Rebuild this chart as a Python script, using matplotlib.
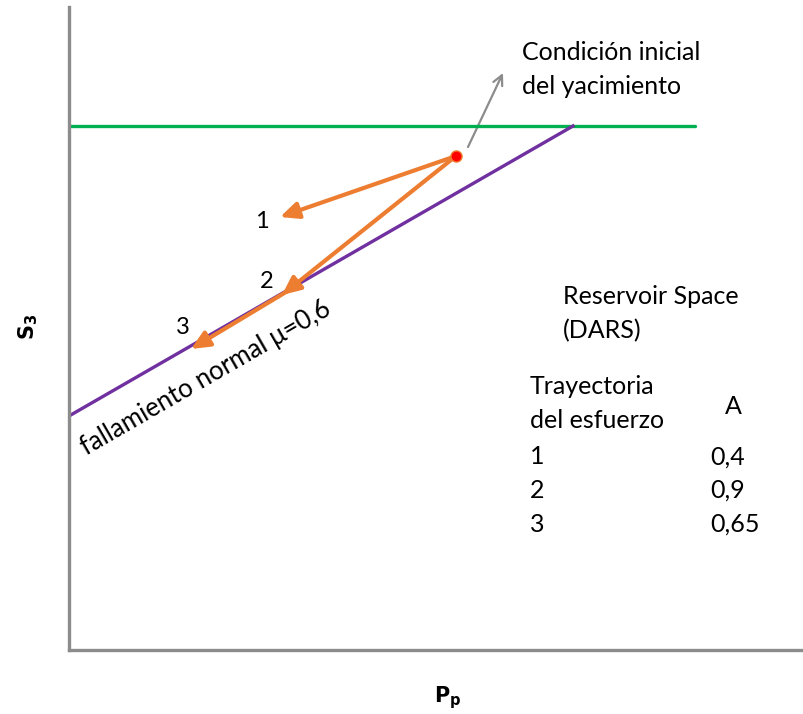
import matplotlib.pyplot as plt
from matplotlib.patches import FancyArrowPatch

plt.rcParams['font.family'] = ['Lato', 'DejaVu Sans']

# coordenadas del diagrama (unidades arbitrarias, origen en la esquina de los ejes)
envolvente_x = [0, 504]          # fallamiento normal mu=0,6
envolvente_y = [234, 524]
s3_ini = 524                      # S3 inicial (linea verde)
s3_x = [0, 626]
punto_inicial = (387, 494)
fin_trayectoria = [(211, 433), (213, 355), (122, 301)]
ini_trayectoria = [punto_inicial, punto_inicial, (222, 361)]
etiquetas_tray = ['1', '2', '3']
pos_etiquetas = [(193, 429), (198, 369), (114, 323)]

tabla_tray = ['1', '2', '3']
tabla_A = ['0,4', '0,9', '0,65']

fs = 18

fig = plt.figure(figsize=(8.04, 7.14), dpi=100)
ax = fig.add_axes([69 / 804, 64 / 714, 1 - 69 / 804, 643 / 714])
ax.set_xlim(0, 735)
ax.set_ylim(0, 643)
ax.set_xticks([])
ax.set_yticks([])
for s in ['top', 'right']:
    ax.spines[s].set_visible(False)
for s in ['left', 'bottom']:
    ax.spines[s].set_color('#8c8c8c')
    ax.spines[s].set_linewidth(2.4)

ax.plot(s3_x, [s3_ini, s3_ini], color='#00b050', lw=2.4, solid_capstyle='round')
ax.plot(envolvente_x, envolvente_y, color='#7030a0', lw=2.4)

for (x0, y0), (x1, y1) in zip(ini_trayectoria, fin_trayectoria):
    ax.add_patch(FancyArrowPatch((x0, y0), (x1, y1), arrowstyle='-|>,head_length=11,head_width=5',
                                 color='#ed7d31', lw=3, mutation_scale=1, shrinkA=0, shrinkB=0,
                                 zorder=3))
for t, (x, y) in zip(etiquetas_tray, pos_etiquetas):
    ax.text(x, y, t, fontsize=17, ha='center', va='center')

ax.plot(*punto_inicial, 'o', color='red', mec='#ed7d31', mew=1, ms=8, zorder=4)

ax.add_patch(FancyArrowPatch((399, 503), (434, 577), arrowstyle='->,head_length=7,head_width=3.5',
                             color='#8c8c8c', lw=1.6, mutation_scale=1, shrinkA=0, shrinkB=0))
ax.text(453, 598, 'Condición inicial', fontsize=fs, ha='left', va='center')
ax.text(453, 564, 'del yacimiento', fontsize=fs, ha='left', va='center')

ax.text(14, 201, 'fallamiento normal μ=0,6', fontsize=18.5, rotation=30,
        rotation_mode='anchor', ha='left', va='center')

ax.text(494, 353, 'Reservoir Space', fontsize=fs, ha='left', va='center')
ax.text(494, 319, '(DARS)', fontsize=fs, ha='left', va='center')
ax.text(461, 264, 'Trayectoria', fontsize=fs, ha='left', va='center')
ax.text(461, 229, 'del esfuerzo', fontsize=fs, ha='left', va='center')
ax.text(664, 244, 'A', fontsize=fs, ha='center', va='center')
for i, (t, a) in enumerate(zip(tabla_tray, tabla_A)):
    y = 193 - i * 33.5
    ax.text(461, y, t, fontsize=fs, ha='left', va='center')
    ax.text(641, y, a, fontsize=fs, ha='left', va='center')

fig.text(28 / 804, 1 - 327 / 714, r'$\mathbf{S_3}$', fontsize=15, rotation=90,
         ha='center', va='center')
fig.text(448 / 804, 1 - 698 / 714, r'$\mathbf{P_p}$', fontsize=15, ha='center', va='center')

fig.savefig('out.png', dpi=100)
